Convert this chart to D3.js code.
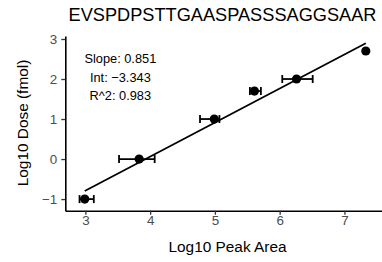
<!DOCTYPE html>
<html>
<head>
<meta charset="utf-8">
<script src="https://cdn.jsdelivr.net/npm/d3@7"></script>
<style>
  body { margin: 0; background: #fff; }
  svg { display: block; font-family: "Liberation Sans", Arial, sans-serif; }
</style>
</head>
<body>
<svg width="382" height="262"></svg>
<script>
const width = 382;
const height = 262;

const title = "EVSPDPSTTGAASPASSSAGGSAAR";
const peakArea = [2.99, 3.83, 4.99, 5.61, 6.26, 7.33];
const dose = [-1, 0, 1, 1.7, 2, 2.7];
const errLow = [2.91, 3.52, 4.77, 5.54, 6.04, 7.33];
const errHigh = [3.13, 4.07, 5.07, 5.71, 6.51, 7.33];
const xTicks = [3, 4, 5, 6, 7];
const yTicks = [-1, 0, 1, 2, 3];
const slope = 0.851;
const intercept = -3.343;
const statLines = ["Slope: 0.851", "Int: \u22123.343", "R^2: 0.983"];
const statY = [2.5, 2.05, 1.6];

const svg = d3.select("svg");

const x = d3.scaleLinear().domain([2.69, 7.58]).range([65.3, 382]);
const y = d3.scaleLinear().domain([-1.29, 3.075]).range([210.7, 36]);

//Axes
const xAxis = svg.append("g")
    .attr("transform", `translate(0,${y.range()[0]})`)
    .call(d3.axisBottom(x).tickValues(xTicks).tickSize(4).tickPadding(1).tickSizeOuter(0)
        .tickFormat(d3.format("d")));
const yAxis = svg.append("g")
    .attr("transform", `translate(${x.range()[0]},0)`)
    .call(d3.axisLeft(y).tickValues(yTicks).tickSize(4).tickPadding(4).tickSizeOuter(0)
        .tickFormat(d => d < 0 ? "\u2212" + Math.abs(d) : d));

[xAxis, yAxis].forEach(a => {
    a.select(".domain").attr("stroke", "#000").attr("stroke-width", 1.6);
    a.selectAll(".tick line").attr("stroke", "#333").attr("stroke-width", 1.3);
    a.selectAll(".tick text")
        .attr("fill", "#4d4d4d")
        .style("font-size", "13.4px")
        .style("font-family", "Liberation Sans, Arial, sans-serif");
});

//Regression line
svg.append("line")
    .attr("x1", x(d3.min(peakArea)))
    .attr("y1", y(slope * d3.min(peakArea) + intercept))
    .attr("x2", x(d3.max(peakArea)))
    .attr("y2", y(slope * d3.max(peakArea) + intercept))
    .attr("stroke", "#000")
    .attr("stroke-width", 1.8);

//Error bars
const bars = svg.append("g").attr("stroke", "#000").attr("stroke-width", 1.8);
peakArea.forEach((d, i) => {
    const cy = y(dose[i]);
    bars.append("line")
        .attr("x1", x(errLow[i])).attr("x2", x(errHigh[i]))
        .attr("y1", cy).attr("y2", cy);
    [errLow[i], errHigh[i]].forEach(e => bars.append("line")
        .attr("x1", x(e)).attr("x2", x(e))
        .attr("y1", cy - 4).attr("y2", cy + 4));
});

//Points
svg.append("g")
    .selectAll("circle")
    .data(peakArea)
    .join("circle")
        .attr("cx", d => x(d))
        .attr("cy", (d, i) => y(dose[i]))
        .attr("r", 4.6)
        .attr("fill", "#000");

//Stats text
svg.append("g")
    .selectAll("text")
    .data(statLines)
    .join("text")
        .attr("x", x(3.54))
        .attr("y", (d, i) => y(statY[i]))
        .attr("dy", "0.35em")
        .attr("text-anchor", "middle")
        .style("font-size", "12.8px")
        .text(d => d);

//Title and labels
svg.append("text")
    .attr("x", 222.5)
    .attr("y", 20.7)
    .attr("text-anchor", "middle")
    .style("font-size", "18.2px")
    .text(title);

svg.append("text")
    .attr("x", 227.5)
    .attr("y", 251.7)
    .attr("text-anchor", "middle")
    .style("font-size", "15.4px")
    .text("Log10 Peak Area");

svg.append("text")
    .attr("transform", "translate(27.5,123) rotate(-90)")
    .attr("text-anchor", "middle")
    .style("font-size", "15.4px")
    .text("Log10 Dose (fmol)");
</script>
</body>
</html>
